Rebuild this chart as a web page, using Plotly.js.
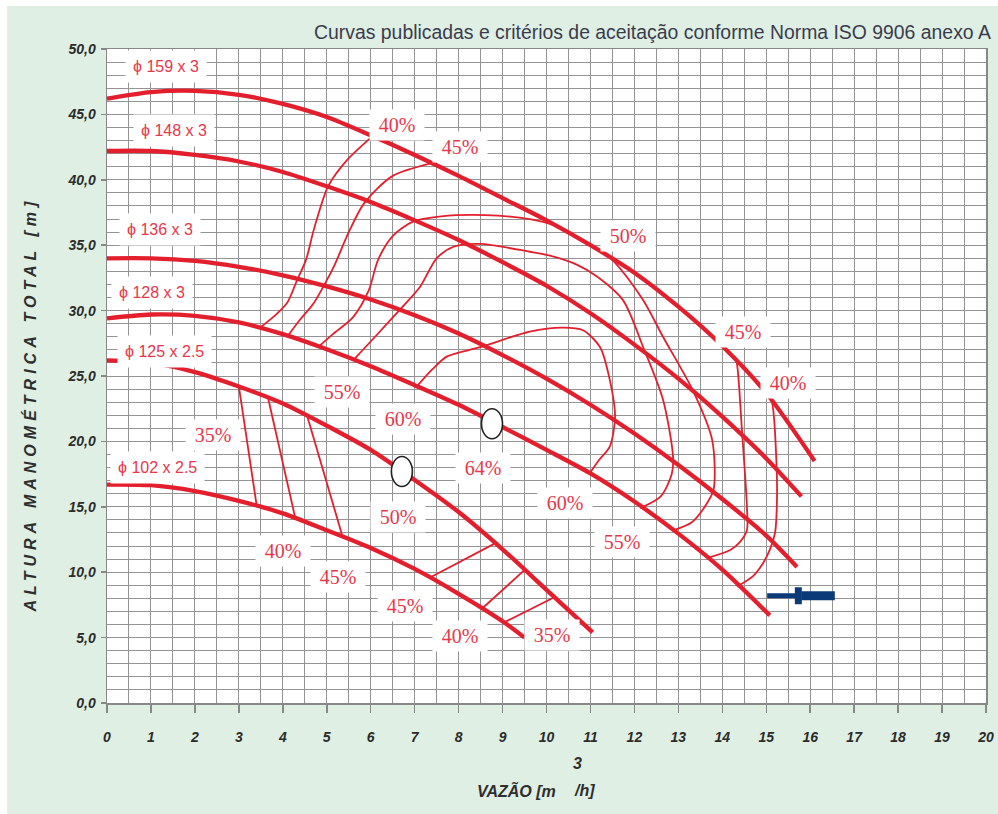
<!DOCTYPE html>
<html><head><meta charset="utf-8">
<script src="https://cdn.plot.ly/plotly-3.0.1.min.js"></script>
<style>html,body{margin:0;padding:0;background:#ffffff;} #chart{position:absolute;left:7px;top:6px;width:991px;height:808px;}</style>
</head><body><div id="chart"></div>
<script>
// ---- Impeller head curves (Q in m3/h, H in m) ----
const q159 = [0,1,2,3,4,5,6,7,8,9,10,11,12,13,14,15,16.1];
const h159 = [46.2,46.7,46.8,46.5,45.8,44.8,43.4,41.9,40.3,38.6,36.9,35.0,32.9,30.3,27.3,23.7,18.5];
const q148 = [0,1,2,3,4,5,6,7,8,9,10,11,12,13,14,15,15.8];
const h148 = [42.2,42.2,41.9,41.4,40.6,39.5,38.3,36.9,35.4,33.7,31.9,29.8,27.4,24.8,21.9,18.7,15.8];
const q136 = [0,1,2,3,4,5,6,7,8,9,10,11,12,13,14,15,15.7];
const h136 = [34.0,34.0,33.8,33.35,32.7,31.85,30.85,29.65,28.25,26.6,24.8,22.8,20.6,18.2,15.6,12.8,10.4];
const q128 = [0,1,2,3,4,5,6,7,8,9,10,11,12,13,14,15.08];
const h128 = [29.4,29.7,29.6,29.1,28.2,27.05,25.75,24.3,22.8,21.1,19.35,17.55,15.4,12.95,10.2,6.7];
const q125 = [0,1,2,3,4,5,6,7,8,9,10,11.05];
const h125 = [26.2,26.0,25.3,24.2,22.9,21.2,19.35,17.05,14.6,11.75,8.65,5.4];
const q102 = [0,1,2,3,4,5,6,7,8,9,9.5];
const h102 = [16.7,16.65,16.2,15.45,14.5,13.2,11.85,10.25,8.35,6.25,5.0];

// ---- Efficiency iso-lines ----
const e40Lq = [3.48,3.78,4.1,4.32,4.53,4.69,4.83,5.03,5.46,6.03];
const e40Lh = [28.7,29.5,30.6,32.3,33.9,36.0,37.6,39.5,41.5,43.3];
const e45Lq = [4.1,4.39,4.69,4.95,5.18,5.5,5.85,6.5,7.42];
const e45Lh = [28.0,29.3,30.5,32.0,33.5,36.0,38.2,40.3,41.3];
const e50q = [4.8,5.14,5.6,5.95,6.17,6.5,6.96,7.6,8.6,9.62,10.2,10.9,11.49,12.2,12.65,13.33,13.77,13.8,13.6,13.3,12.88];
const e50h = [27.2,28.2,29.5,31.5,33.9,35.7,36.8,37.2,37.3,37.0,36.5,35.2,33.9,30.8,28.0,23.9,20.1,16.3,15.0,13.8,13.2];
const e55q = [5.6,6.1,6.67,7.12,7.5,7.9,8.5,9.62,10.08,10.7,11.15,11.74,12.2,12.65,12.88,12.85,12.6,12.13];
const e55h = [26.2,28.0,30.1,31.8,34.0,34.9,35.1,34.5,34.2,33.5,32.6,30.8,27.2,23.2,18.8,17.5,15.8,14.9];
const e60q = [7.05,7.4,7.74,8.49,9.62,10.38,10.83,11.22,11.44,11.56,11.44,11.2,10.99];
const e60h = [24.2,25.5,26.5,27.2,28.4,28.7,28.5,27.2,24.7,21.9,19.6,18.6,17.6];
const e45Rq = [14.29,14.33,14.45,14.56,14.56,14.4,14.18,13.67];
const e45Rh = [26.3,26.0,20.7,15.0,13.2,12.3,11.7,11.1];
const e40Rq = [15.08,15.13,15.24,15.24,15.2,15.08,14.93,14.7,14.33];
const e40Rh = [23.3,23.0,17.6,15.0,13.0,11.7,10.7,9.7,8.9];
// straight iso-lines between the two smaller impellers
const seg35aq = [3.0,3.41],  seg35ah = [24.2,15.0];
const seg40aq = [3.66,4.28], seg40ah = [23.4,14.2];
const seg45aq = [4.55,5.37], seg45ah = [22.0,12.6];
const seg45bq = [7.35,8.83], seg45bh = [9.6,12.2];
const seg40bq = [8.56,9.51], seg40bh = [7.3,10.2];
const seg35bq = [9.06,10.19],seg35bh = [6.2,8.1];

// best efficiency points (circles)
const bepQ = [8.76, 6.71];
const bepH = [21.35, 17.7];

// operating point arrow
const arrowQ = [15.02, 15.7, 15.73, 15.8, 16.56];
const arrowH = 8.2;

// labels
const impText = ['\u03d5 159 x 3','\u03d5 148 x 3','\u03d5 136 x 3','\u03d5 128 x 3','\u03d5 125 x 2.5','\u03d5 102 x 2.5'];
const impQ = [1.34,1.52,1.2,1.03,1.3,1.16];
const impH = [48.7,43.8,36.2,31.4,26.9,18.0];
const effText = ['40%','45%','50%','45%','40%','55%','60%','64%','60%','55%','50%','35%','40%','45%','45%','40%','35%'];
const effQ = [6.6,8.03,11.85,14.47,15.5,5.35,6.74,8.56,10.42,11.72,6.62,2.41,4.0,5.26,6.78,8.03,10.12];
const effH = [44.2,42.5,35.7,28.4,24.5,23.8,21.7,18.0,15.3,12.3,14.2,20.5,11.6,9.6,7.4,5.1,5.2];

const RED = '#e41f2d';
const TXT = '#e8374a';
function curve(x, y, w){
  return {type:'scatter', mode:'lines', x:x, y:y, hoverinfo:'skip', showlegend:false,
          line:{color:RED, width:w, shape:'spline', smoothing:0.8}};
}
const data = [];
[[e40Lq,e40Lh],[e45Lq,e45Lh],[e50q,e50h],[e55q,e55h],[e60q,e60h],[e45Rq,e45Rh],[e40Rq,e40Rh],
 [seg35aq,seg35ah],[seg40aq,seg40ah],[seg45aq,seg45ah],[seg45bq,seg45bh],[seg40bq,seg40bh],[seg35bq,seg35bh]]
 .forEach(p => data.push(curve(p[0], p[1], 1.8)));
[[q159,h159],[q148,h148],[q136,h136],[q128,h128],[q125,h125],[q102,h102]]
 .forEach(p => data.push(curve(p[0], p[1], 4.3)));
const BLUE = '#0b3a78';
data.push({type:'scatter', mode:'lines', x:[arrowQ[0],arrowQ[1]], y:[arrowH,arrowH], line:{color:BLUE,width:5}, showlegend:false, hoverinfo:'skip'});
data.push({type:'scatter', mode:'lines', x:[arrowQ[2],arrowQ[2]], y:[arrowH-0.65,arrowH+0.65], line:{color:BLUE,width:7}, showlegend:false, hoverinfo:'skip'});
data.push({type:'scatter', mode:'lines', x:[arrowQ[3],arrowQ[4]], y:[arrowH,arrowH], line:{color:BLUE,width:9}, showlegend:false, hoverinfo:'skip'});

const annotations = [];
impText.forEach((t,i) => annotations.push({x:impQ[i], y:impH[i], xref:'x', yref:'y', text:t, showarrow:false,
  font:{family:'Liberation Sans, Arial, sans-serif', size:16, color:TXT}, bgcolor:'#ffffff', borderpad:7}));
effText.forEach((t,i) => annotations.push({x:effQ[i], y:effH[i], xref:'x', yref:'y', text:t, showarrow:false,
  font:{family:'Liberation Serif, Times New Roman, serif', size:20, color:TXT}, bgcolor:'#ffffff', width:52, height:28, borderpad:1}));
annotations.push({xref:'paper', yref:'paper', x:1, y:1, xanchor:'right', yanchor:'middle', xshift:7, yshift:17, showarrow:false,
  text:'Curvas publicadas e critérios de aceitação conforme Norma ISO 9906 anexo A',
  font:{family:'Liberation Sans, Arial, sans-serif', size:19.4, color:'#3b3b4e'}});
const axTitleFont = {family:'Liberation Sans, Arial, sans-serif', size:16, color:'#2e2e2e', weight:'bold', style:'italic'};
annotations.push({xref:'paper', yref:'paper', x:0, y:0.4564, xanchor:'center', yanchor:'middle', xshift:-77, showarrow:false,
  textangle:-90, text:'ALTURA MANOMÉTRICA TOTAL [m]', font:axTitleFont});
annotations.push({xref:'paper', yref:'paper', x:0.5131, y:0, xanchor:'right', yanchor:'middle', yshift:-87, showarrow:false,
  text:'VAZÃO [m', font:axTitleFont});
annotations.push({xref:'paper', yref:'paper', x:0.529, y:0, xanchor:'left', yanchor:'middle', yshift:-87, showarrow:false,
  text:'/h]', font:axTitleFont});
annotations.push({xref:'paper', yref:'paper', x:0.5358, y:0, xanchor:'center', yanchor:'middle', yshift:-60, showarrow:false,
  text:'3', font:axTitleFont});

const shapes = bepQ.map((q,i) => ({type:'circle', xref:'x', yref:'y', xsizemode:'pixel', ysizemode:'pixel',
  xanchor:q, yanchor:bepH[i], x0:-10.5, x1:10.5, y0:-15, y1:15, fillcolor:'#ffffff', line:{color:'#222', width:1.6}, layer:'above'}));

const tickFont = {family:'Liberation Sans, Arial, sans-serif', size:14, color:'#2b2b2b', weight:'bold', style:'italic'};
const GRID = '#949494';
const layout = {
  width:991, height:808,
  margin:{l:100, r:12, t:43, b:111},
  paper_bgcolor:'#dfefe3', plot_bgcolor:'#ffffff',
  separators:',.',
  showlegend:false,
  xaxis:{range:[0,20], tick0:0, dtick:1, ticks:'outside', ticklen:8, tickwidth:1.5, tickcolor:'#888',
    showgrid:true, gridcolor:GRID, gridwidth:1, zeroline:false,
    minor:{dtick:0.5, showgrid:true, gridcolor:GRID, gridwidth:1},
    showline:true, linecolor:'#888', linewidth:1.5, mirror:true, tickfont:tickFont, ticklabelstandoff:13, fixedrange:true},
  yaxis:{range:[0,50], tick0:0, dtick:5, tickformat:'.1f', ticks:'outside', ticklen:5, tickwidth:1.5, tickcolor:'#888',
    showgrid:true, gridcolor:GRID, gridwidth:1, zeroline:false,
    minor:{dtick:1, showgrid:true, gridcolor:GRID, gridwidth:1},
    showline:true, linecolor:'#888', linewidth:1.5, mirror:true, tickfont:tickFont, ticklabelstandoff:2, fixedrange:true},
  annotations:annotations,
  shapes:shapes
};
Plotly.newPlot('chart', data, layout, {displayModeBar:false, staticPlot:true}).then(function(gd){
  gd.querySelectorAll('.annotation-text').forEach(function(t){
    if (t.textContent.indexOf('ALTURA') === 0) { t.style.letterSpacing = '5px'; }
  });
});
</script></body></html>
